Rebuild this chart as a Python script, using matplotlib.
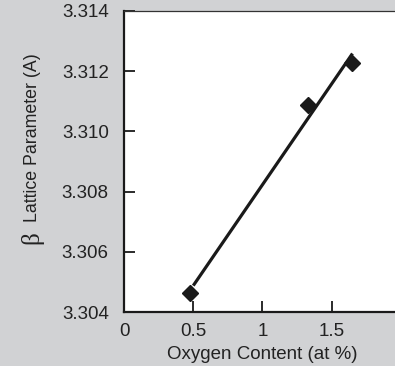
import numpy as np
import matplotlib
matplotlib.use("Agg")
import matplotlib.pyplot as plt

BG = "#d1d2d4"
INK = "#1a1a1a"
TXT = "#222222"

# measured points (oxygen at %, beta lattice parameter in A)
oxygen = [0.48, 1.33, 1.65]
lattice = [3.30462, 3.31089, 3.31226]
x_ticks = [0, 0.5, 1, 1.5, 2]
x_tick_labels = ["0", "0.5", "1", "1.5", "2"]
y_ticks = [3.304, 3.306, 3.308, 3.310, 3.312, 3.314]

plt.rcParams["font.family"] = ["Liberation Sans", "DejaVu Sans"]

fig = plt.figure(figsize=(3.95, 3.66), dpi=100)
fig.patch.set_facecolor(BG)
ax = fig.add_axes([0.314, 0.1475, 0.701, 0.8225])
ax.set_facecolor("white")

# least squares fit line over the measured range
k, b = np.polyfit(oxygen, lattice, 1)
xf = np.array([min(oxygen) + 0.02, max(oxygen)])
ax.plot(xf, k * xf + b, color=INK, lw=2.3, solid_capstyle="butt", zorder=2)
ax.plot(oxygen, lattice, "D", color=INK, ms=8, zorder=3)

ax.set_xlim(0, 2)
ax.set_ylim(3.304, 3.3139)
ax.set_xticks(x_ticks)
ax.set_xticklabels(x_tick_labels)
ax.set_yticks(y_ticks)
ax.set_yticklabels([f"{v:.3f}" for v in y_ticks])
ax.tick_params(direction="in", length=8, width=1.3, color=INK,
               labelsize=13.5, labelcolor=TXT)
ax.tick_params(axis="y", pad=11)
ax.tick_params(axis="x", pad=8)

for side in ("left", "bottom"):
    ax.spines[side].set_linewidth(1.6)
    ax.spines[side].set_color(INK)
ax.spines["top"].set_linewidth(0.9)
ax.spines["top"].set_color("#333333")
ax.spines["right"].set_visible(False)

ax.set_xlabel("Oxygen Content (at %)", fontsize=13.5, color=TXT, labelpad=4)

# y label: large serif beta below the text
fig.text(0.083, 0.623, "Lattice Parameter (A)", rotation=90, fontsize=12.8,
         color=TXT, ha="center", va="center")
fig.text(0.081, 0.352, "β", rotation=90, fontsize=18, color=TXT,
         family="Liberation Serif", ha="center", va="center")

fig.savefig("out.png", facecolor=BG, dpi=100)
